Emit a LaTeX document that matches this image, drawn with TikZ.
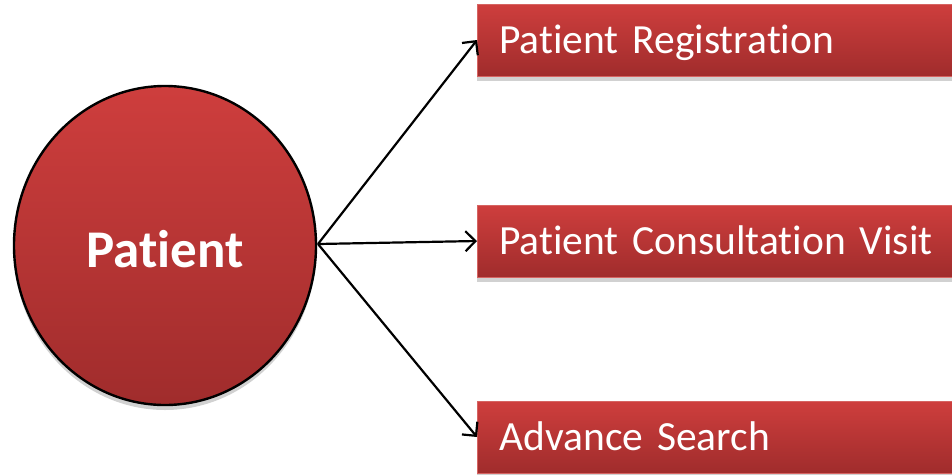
\documentclass[tikz,border=0pt]{standalone}
\usepackage{fontspec}
\setmainfont[Ligatures=NoCommon,WordSpace=0.75]{Carlito}
\usetikzlibrary{shapes.geometric,arrows.meta,shadows}
\definecolor{redtop}{RGB}{206,62,61}
\definecolor{redbot}{RGB}{160,44,44}
\definecolor{redrim}{RGB}{214,100,98}
\tikzset{
  oval/.style={ellipse, draw=black, line width=2.4pt, top color=redtop, bottom color=redbot,
    minimum width=302pt, minimum height=319pt, inner sep=0pt, text=white,
    font=\fontsize{53}{60}\selectfont\bfseries, text height=43pt, text depth=0pt,
    drop shadow={shadow xshift=0pt, shadow yshift=-5pt, opacity=0.18, fill=black}},
  bar/.style={rectangle, draw=redrim, line width=0.8pt, top color=redtop, bottom color=redbot,
    minimum width=500pt, minimum height=72pt, text width=460pt, align=left,
    inner xsep=22pt, inner ysep=0pt, anchor=west, text=white,
    font=\fontsize{41.5}{48}\selectfont, text height=26pt, text depth=0pt,
    drop shadow={shadow xshift=0pt, shadow yshift=-5pt, opacity=0.18, fill=black}},
  conn/.style={line width=2.2pt, -{Straight Barb[length=10pt,width=20pt,line width=2.2pt]}},
}
\begin{document}
\begin{tikzpicture}[x=1pt,y=-1pt]
\useasboundingbox (0,0) rectangle (952,474);
\clip (0,0) rectangle (952,474);
\node[oval] (pat) at (165,245.5) {Patient};
\node[bar] (reg) at (477,40) {Patient Registration};
\node[bar] (con) at (477,241) {Patient Consultation Visit};
\node[bar] (adv) at (477,437) {Advance Search};
\coordinate (src) at (318,244);
\draw[conn] (src) -- (reg.west);
\draw[conn] (src) -- (con.west);
\draw[conn] (src) -- (adv.west);
\end{tikzpicture}
\end{document}
